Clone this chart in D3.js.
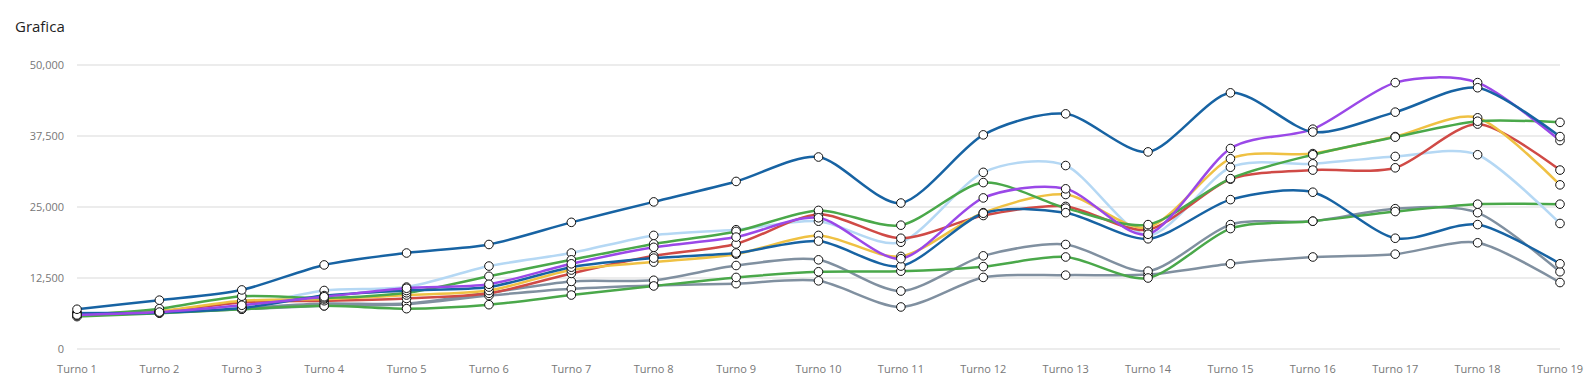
<!DOCTYPE html>
<meta charset="utf-8">
<title>Grafica</title>
<style>

body {
  margin: 0;
  background: #fff;
  font-family: "Open Sans", sans-serif;
}

.title {
  font-size: 15px;
  fill: #222;
}

.axis text {
  font-size: 11px;
  fill: #777;
}

.grid line {
  stroke: #e6e6e6;
  stroke-width: 1.5;
}

.line {
  fill: none;
  stroke-width: 2.5;
}

.dot {
  fill: #fff;
  stroke: #111;
  stroke-width: 1;
}

</style>
<body>
<script src="https://d3js.org/d3.v7.min.js"></script>
<script>

var turni = ["Turno 1", "Turno 2", "Turno 3", "Turno 4", "Turno 5", "Turno 6", "Turno 7", "Turno 8", "Turno 9", "Turno 10",
  "Turno 11", "Turno 12", "Turno 13", "Turno 14", "Turno 15", "Turno 16", "Turno 17", "Turno 18", "Turno 19"];

var yTicks = [0, 12500, 25000, 37500, 50000];

var blu1   = [7000, 8600, 10400, 14800, 16900, 18400, 22300, 25900, 29500, 33800, 25700, 37700, 41400, 34700, 45100, 38200, 41700, 46000, 37400];
var viola  = [6000, 6500, 7700, 9200, 10700, 11400, 15000, 17900, 19700, 23100, 15900, 26600, 28200, 20200, 35300, 38700, 46900, 46900, 36700];
var blu2   = [6300, 6400, 7200, 9400, 10300, 10900, 14400, 16000, 16900, 19000, 14600, 23900, 24000, 19400, 26300, 27600, 19500, 21900, 15000];
var verde1 = [5900, 7100, 9300, 9000, 9900, 12800, 15700, 18500, 20700, 24400, 21800, 29300, 24800, 21900, 30000, 34200, 37300, 40100, 39900];
var verde2 = [5700, 6300, 7000, 7600, 7100, 7800, 9500, 11100, 12600, 13600, 13700, 14500, 16200, 12500, 21200, 22500, 24200, 25500, 25500];
var grigio1 = [6100, 6500, 7200, 8000, 8000, 9900, 11900, 12100, 14700, 15700, 10200, 16400, 18400, 13700, 21900, 22500, 24700, 24000, 13600];
var grigio2 = [5900, 6400, 7000, 7600, 7900, 9400, 10600, 11200, 11500, 12000, 7400, 12600, 13000, 13100, 15000, 16200, 16700, 18700, 11700];
var rosso  = [6100, 6600, 8200, 8500, 8900, 9800, 13300, 16400, 18500, 23700, 19500, 23500, 25100, 21000, 29900, 31500, 31900, 39600, 31500];
var giallo = [6200, 6700, 8500, 8800, 9500, 10300, 13900, 15300, 16700, 20000, 16300, 24000, 27200, 21400, 33500, 34400, 37400, 40700, 28900];
var celeste = [6400, 6600, 7500, 10300, 10900, 14600, 16900, 20000, 21000, 22500, 18800, 31100, 32300, 20000, 32000, 32600, 33900, 34200, 22100];

var series = [
  {name: "grigio2", color: "#8090a0", values: grigio2},
  {name: "grigio1", color: "#8090a0", values: grigio1},
  {name: "verde2", color: "#4aa84a", values: verde2},
  {name: "celeste", color: "#b5d8f4", values: celeste},
  {name: "rosso", color: "#d04a46", values: rosso},
  {name: "giallo", color: "#efc143", values: giallo},
  {name: "verde1", color: "#4aa84a", values: verde1},
  {name: "blu2", color: "#1763a3", values: blu2},
  {name: "viola", color: "#9a48e8", values: viola},
  {name: "blu1", color: "#1763a3", values: blu1}
];

var margin = {top: 65, right: 32, bottom: 41, left: 77},
    width = 1592 - margin.left - margin.right,
    height = 390 - margin.top - margin.bottom;

var x = d3.scalePoint()
    .domain(turni)
    .range([0, width]);

var y = d3.scaleLinear()
    .domain([0, 50000])
    .range([height, 0]);

var svg = d3.select("body").append("svg")
    .attr("width", 1592)
    .attr("height", 390);

svg.append("text")
    .attr("class", "title")
    .attr("x", 15)
    .attr("y", 32)
    .text("Grafica");

var g = svg.append("g")
    .attr("transform", "translate(" + margin.left + "," + margin.top + ")");

g.append("g")
    .attr("class", "grid")
  .selectAll("line")
    .data(yTicks)
  .enter().append("line")
    .attr("x1", 0)
    .attr("x2", width)
    .attr("y1", function(d) { return y(d); })
    .attr("y2", function(d) { return y(d); });

g.append("g")
    .attr("class", "y axis")
  .selectAll("text")
    .data(yTicks)
  .enter().append("text")
    .attr("x", -13)
    .attr("y", function(d) { return y(d); })
    .attr("dy", ".35em")
    .style("text-anchor", "end")
    .text(d3.format(","));

g.append("g")
    .attr("class", "x axis")
  .selectAll("text")
    .data(turni)
  .enter().append("text")
    .attr("x", function(d) { return x(d); })
    .attr("y", height + 24)
    .style("text-anchor", "middle")
    .text(function(d) { return d; });

var line = d3.line()
    .curve(d3.curveCardinal.tension(0.2))
    .x(function(d, i) { return x(turni[i]); })
    .y(function(d) { return y(d); });

g.selectAll(".line")
    .data(series)
  .enter().append("path")
    .attr("class", "line")
    .style("stroke", function(s) { return s.color; })
    .attr("d", function(s) { return line(s.values); });

series.forEach(function(s) {
  g.selectAll(".dot-" + s.name)
      .data(s.values)
    .enter().append("circle")
      .attr("class", "dot dot-" + s.name)
      .attr("r", 4.3)
      .attr("cx", function(d, i) { return x(turni[i]); })
      .attr("cy", function(d) { return y(d); });
});

</script>
